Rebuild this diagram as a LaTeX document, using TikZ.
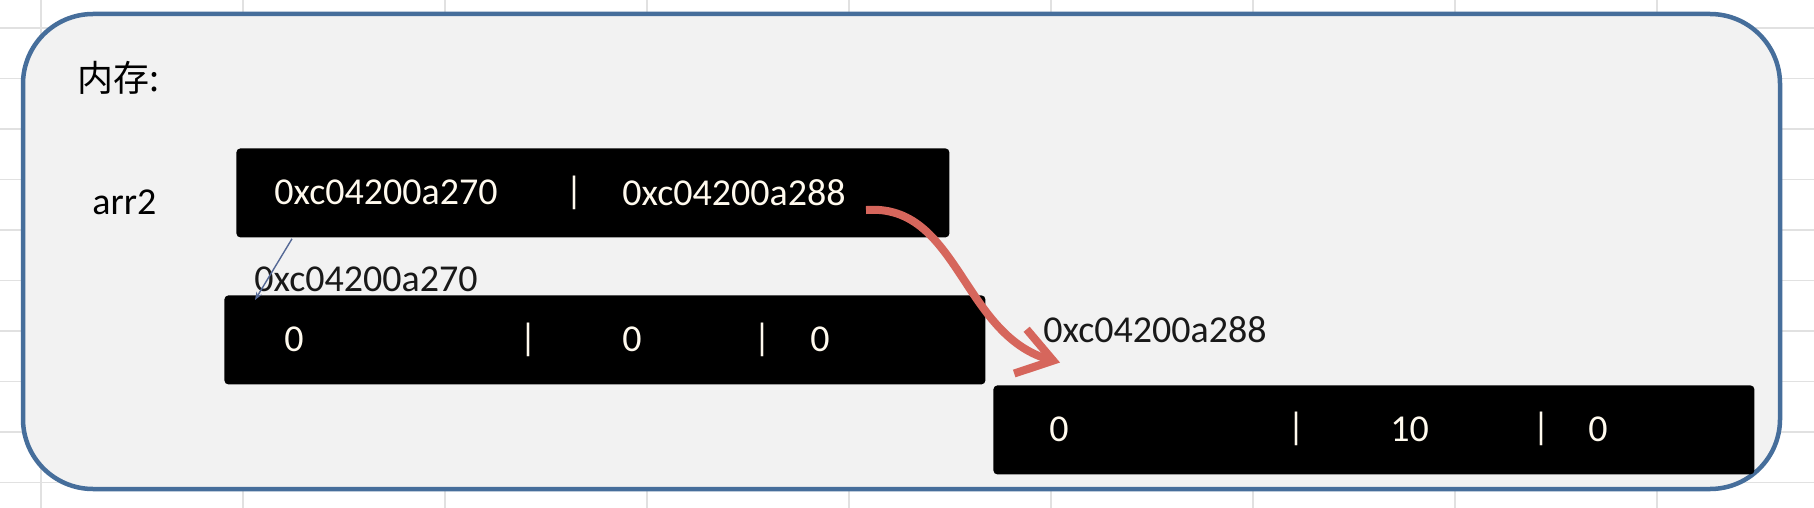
\documentclass[tikz,border=0pt]{standalone}
\usepackage{fontspec}
\setmainfont{Carlito}
\newfontfamily\cjkfont{Noto Sans CJK SC}
\usepackage{tikz}
\usetikzlibrary{arrows.meta, calc}
\definecolor{framecolor}{RGB}{70, 110, 155}
\definecolor{panelcolor}{RGB}{242, 242, 242}
\definecolor{gridcolor}{RGB}{225, 225, 225}
\definecolor{pointercolor}{RGB}{214, 102, 92}
\definecolor{linkcolor}{RGB}{85, 105, 150}
\definecolor{cellcolor}{RGB}{255, 250, 238}

\begin{document}
\begin{tikzpicture}[
    x=0.5pt, y=-0.5pt,
    gridline/.style={draw=gridcolor, line width=0.6pt},
    panel/.style={draw=framecolor, line width=2.25pt, fill=panelcolor, rounded corners=35pt},
    memblock/.style={fill=black, rounded corners=2pt, inner sep=0pt, anchor=north west, minimum height=44.5pt},
    cell/.style={text=cellcolor, inner sep=0pt, anchor=west, font=\fontsize{19}{23}\selectfont},
    bar/.style={text=cellcolor, inner sep=0pt, font=\fontsize{19}{23}\selectfont},
    addr/.style={text=black!90, inner sep=0pt, anchor=west, font=\fontsize{19}{23}\selectfont},
    pointer/.style={draw=pointercolor, line width=4pt, -{Straight Barb[length=17pt, width=23pt]}},
    link/.style={draw=linkcolor, line width=0.7pt, -{Stealth[length=4pt, width=3pt]}},
]
    \useasboundingbox (0,0) rectangle (1814,508);
    \fill[white] (0,0) rectangle (1814,508);

    % Sheet grid
    \foreach \gx in {41,243,445,647,849,1051,1253,1455,1657}
        \draw[gridline] (\gx,0) -- (\gx,508);
    \foreach \k in {0,...,9}
        \draw[gridline] (0,{28+50.5*\k}) -- (1814,{28+50.5*\k});

    % Panel
    \draw[panel] (23,14) rectangle (1780,489);
    \node[inner sep=0pt, anchor=west, font=\cjkfont\fontsize{18}{22}\selectfont] (mem) at (77,78) {内存:};
    \node[addr, text=black] (name) at (92,202.5) {arr2};

    % Slice header
    \node[memblock, minimum width=356.5pt] (hdr) at (236,148) {};
    \node[cell] (hdrA) at (274,192.5) {0xc04200a270};
    \node[bar] (hdrbar) at (574,192.5) {|};
    \node[cell] (hdrB) at (622,192.5) {0xc04200a288};

    % First array
    \node[addr] (addrA) at (254,279.5) {0xc04200a270};
    \node[memblock, minimum width=380.5pt] (arrA) at (224,295) {};
    \node[cell] (a0) at (284,339.5) {0};
    \node[bar] (abar1) at (528,339.5) {|};
    \node[cell] (a1) at (622,339.5) {0};
    \node[bar] (abar2) at (762,339.5) {|};
    \node[cell] (a2) at (810,339.5) {0};

    % Second array
    \node[addr] (addrB) at (1043,330) {0xc04200a288};
    \node[memblock, minimum width=380.5pt] (arrB) at (993,385) {};
    \node[cell] (b0) at (1049,429) {0};
    \node[bar] (bbar1) at (1296,429) {|};
    \node[cell] (b1) at (1390,429) {10};
    \node[bar] (bbar2) at (1541,429) {|};
    \node[cell] (b2) at (1588,429) {0};

    % Pointers
    \coordinate (linkstart) at ($(hdr.south west)+(56,1)$);
    \coordinate (linkend) at ($(arrA.north west)+(31,5)$);
    \draw[link] (linkstart) -- (linkend);
    \coordinate (ptrstart) at ($(hdrB.south east)+(20,4)$);
    \coordinate (ptrend) at ($(addrB.south west)+(17,19)$);
    \draw[pointer] (ptrstart) .. controls (958,203) and (962,335) .. (ptrend);
\end{tikzpicture}
\end{document}
